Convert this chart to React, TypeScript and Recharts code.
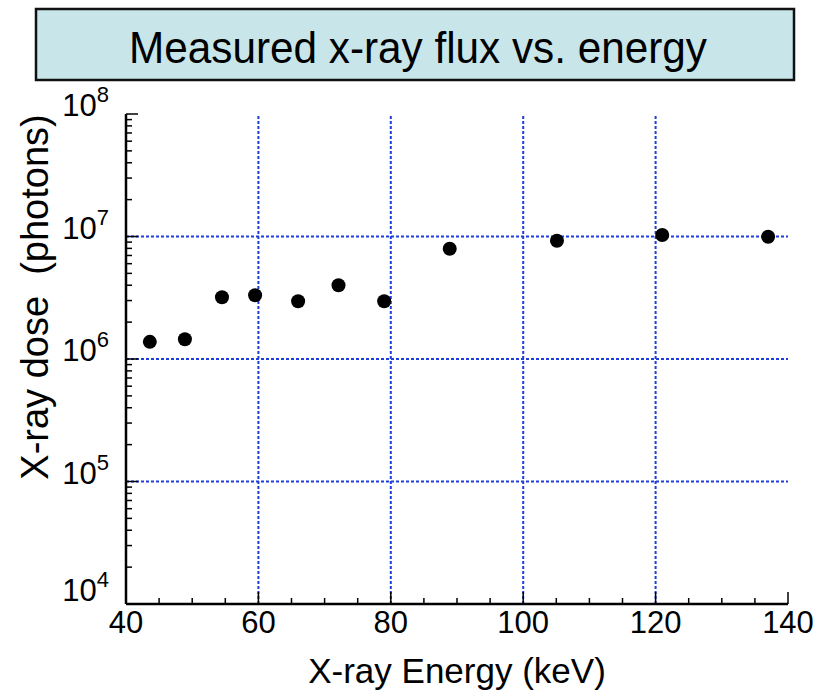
import * as React from "react"
import {
  ScatterChart,
  Scatter,
  XAxis,
  YAxis,
  ReferenceLine,
} from "recharts"

const energy = [43.6, 48.9, 54.5, 59.5, 66.0, 72.1, 79.0, 88.9, 105.1, 121.0, 137.0]
const dose = [1.38e6, 1.45e6, 3.19e6, 3.31e6, 2.96e6, 4.0e6, 2.96e6, 7.95e6, 9.24e6, 1.03e7, 9.96e6]

const xMajor = [40, 60, 80, 100, 120, 140]
const xMinor = [45, 50, 55, 65, 70, 75, 85, 90, 95, 105, 110, 115, 125, 130, 135]
const xGrid = [60, 80, 100, 120]
const yDecades = [1e4, 1e5, 1e6, 1e7, 1e8]
const yExponents = [4, 5, 6, 7, 8]
const yMinorFactors = [2, 3, 4, 5, 6, 7, 8, 9]
const yGrid = [1e5, 1e6, 1e7]

const points = energy.map((e, i) => ({ energy: e, dose: dose[i] }))
const xTicks = [...xMajor, ...xMinor].sort((a, b) => a - b)
const yTicks = [
  ...yDecades,
  ...yDecades.slice(0, -1).flatMap(d => yMinorFactors.map(f => f * d)),
].sort((a, b) => a - b)

const FONT = "'Liberation Sans', Arial, Helvetica, sans-serif"
const GRID = "#1f3fdc"

// drop the default body margin so the chart sits at the page corner
document.body.style.margin = "0"
document.body.style.overflow = "hidden"

function BottomTick(props: any) {
  const { x, y, payload } = props
  const major = xMajor.includes(payload.value)
  return (
    <g>
      <line x1={x} x2={x} y1={y} y2={y - (major ? 12 : 6)} stroke="#000" strokeWidth={1.5} />
      {major && (
        <text x={x} y={y + 29} textAnchor="middle" fontSize={31} fill="#000" fontFamily={FONT}>
          {payload.value}
        </text>
      )}
    </g>
  )
}

function TopTick(props: any) {
  const { x, y, payload } = props
  const major = xMajor.includes(payload.value)
  return <line x1={x} x2={x} y1={y} y2={y + (major ? 12 : 6)} stroke="#000" strokeWidth={1.5} />
}

function LeftTick(props: any) {
  const { x, y, payload } = props
  const idx = yDecades.indexOf(payload.value)
  const major = idx >= 0
  const base = idx === 0 ? y - 3 : y + 2
  return (
    <g>
      <line x1={x} x2={x + (major ? 12 : 6)} y1={y} y2={y} stroke="#000" strokeWidth={1.5} />
      {major && (
        <text x={x - 17} y={base} textAnchor="end" fontSize={31} fill="#000" fontFamily={FONT}>
          10
          <tspan fontSize={22} dy={-14}>{yExponents[idx]}</tspan>
        </text>
      )}
    </g>
  )
}

export default function App() {
  return (
    <div style={{ position: "relative", width: 829, height: 690, overflow: "hidden", background: "#fff", fontFamily: FONT }}>
      <svg width={829} height={90} style={{ position: "absolute", left: 0, top: 0 }}>
        <rect x={36} y={9} width={758} height={71} fill="#c8e6e9" stroke="#111" strokeWidth={2.5} />
        <text
          x={418}
          y={63}
          textAnchor="middle"
          fontSize={44}
          fill="#000"
          fontFamily={FONT}
          textLength={578}
          lengthAdjust="spacingAndGlyphs"
        >
          Measured x-ray flux vs. energy
        </text>
      </svg>
      <div style={{ position: "absolute", left: 0, top: 0 }}>
        <ScatterChart width={829} height={690} margin={{ top: 114, right: 41, bottom: 46, left: 0 }}>
          <XAxis
            dataKey="energy"
            type="number"
            domain={[40, 140]}
            ticks={xTicks}
            interval={0}
            tickSize={0}
            tickMargin={0}
            tick={<BottomTick />}
            axisLine={{ stroke: "#000", strokeWidth: 2.5 }}
            height={40}
            label={{
              content: () => (
                <text x={457} y={683} textAnchor="middle" fontSize={35} fill="#000" fontFamily={FONT}>
                  X-ray Energy (keV)
                </text>
              ),
            }}
          />
          <XAxis
            xAxisId="top"
            orientation="top"
            type="number"
            domain={[40, 140]}
            ticks={xTicks}
            interval={0}
            tickSize={0}
            tickMargin={0}
            tick={<TopTick />}
            axisLine={{ stroke: "#000", strokeWidth: 2.5 }}
            height={0}
          />
          <YAxis
            dataKey="dose"
            type="number"
            scale="log"
            domain={[1e4, 1e8]}
            allowDataOverflow
            ticks={yTicks}
            interval={0}
            tickSize={0}
            tickMargin={0}
            tick={<LeftTick />}
            axisLine={{ stroke: "#000", strokeWidth: 2.5 }}
            width={126}
            label={{
              content: () => (
                <text
                  x={48}
                  y={297}
                  transform="rotate(-90 48 297)"
                  textAnchor="middle"
                  fontSize={38}
                  fill="#000"
                  fontFamily={FONT}
                  xmlSpace="preserve"
                >
                  {"X-ray dose  (photons)"}
                </text>
              ),
            }}
          />
          <YAxis
            yAxisId="right"
            orientation="right"
            type="number"
            scale="log"
            domain={[1e4, 1e8]}
            allowDataOverflow
            tick={false}
            tickLine={false}
            axisLine={{ stroke: "#000", strokeWidth: 2.5 }}
            width={0}
          />
          {xGrid.map(v => (
            <ReferenceLine key={"x" + v} x={v} stroke={GRID} strokeWidth={2} strokeDasharray="3 2" />
          ))}
          {yGrid.map(v => (
            <ReferenceLine key={"y" + v} y={v} stroke={GRID} strokeWidth={2} strokeDasharray="3 2" />
          ))}
          <Scatter
            data={points}
            isAnimationActive={false}
            shape={(p: any) => <circle cx={p.cx} cy={p.cy} r={7} fill="#000" />}
          />
        </ScatterChart>
      </div>
    </div>
  )
}
